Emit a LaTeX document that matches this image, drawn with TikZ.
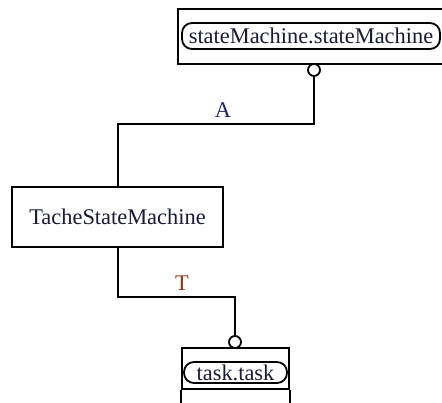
\documentclass[tikz,border=0pt]{standalone}
\usepackage{fontspec}
\setmainfont{Liberation Serif}
\begin{document}
\begin{tikzpicture}[x=1pt,y=-1pt,
  every node/.style={font=\fontsize{22.4}{24}\selectfont, inner sep=0pt},
  boxstyle/.style={draw, line width=2pt, rectangle},
  pillstyle/.style={draw, line width=1.8pt, rectangle, rounded corners=10pt, text=txtcol},
  conn/.style={line width=2pt},
  endcircle/.style={draw, line width=1.8pt, circle, fill=white, minimum size=12pt}]
\definecolor{txtcol}{HTML}{181C38}
\definecolor{labA}{HTML}{202858}
\definecolor{labT}{HTML}{8E3516}
\useasboundingbox (0,0) rectangle (442,403);
\clip (0,0) rectangle (442,403);
\fill[white] (0,0) rectangle (442,403);
% top class box
\node[boxstyle, minimum width=268pt, minimum height=55pt] (smbox) at (312,36.5) {};
\node[pillstyle, minimum width=258pt, minimum height=26pt] (smpill) at (311,36) {stateMachine.stateMachine};
% middle box
\node[boxstyle, minimum width=211pt, minimum height=60pt, text=txtcol] (tache) at (117.5,217) {TacheStateMachine};
% bottom class box
\node[boxstyle, minimum width=107pt, minimum height=41pt] (taskbox) at (235.5,368.5) {};
\draw[conn] (taskbox.south west) -- ++(0,20);
\draw[conn] (taskbox.south east) -- ++(0,20);
\node[pillstyle, minimum width=103pt, minimum height=21pt] (taskpill) at (235.5,372.5) {task.task};
% connector A
\node[endcircle] (ca) at (314,70) {};
\coordinate (a1) at (314,124.5);
\draw[conn] (ca.south) -- (a1) -| (tache.north);
\node[text=labA] (labelA) at (223,110) {A};
% connector T
\node[endcircle] (ct) at (235,342) {};
\coordinate (t1) at (117.5,297.5);
\draw[conn] (tache.south) -- (t1) -| (ct.north);
\node[text=labT] (labelT) at (182,283) {T};
\end{tikzpicture}
\end{document}
